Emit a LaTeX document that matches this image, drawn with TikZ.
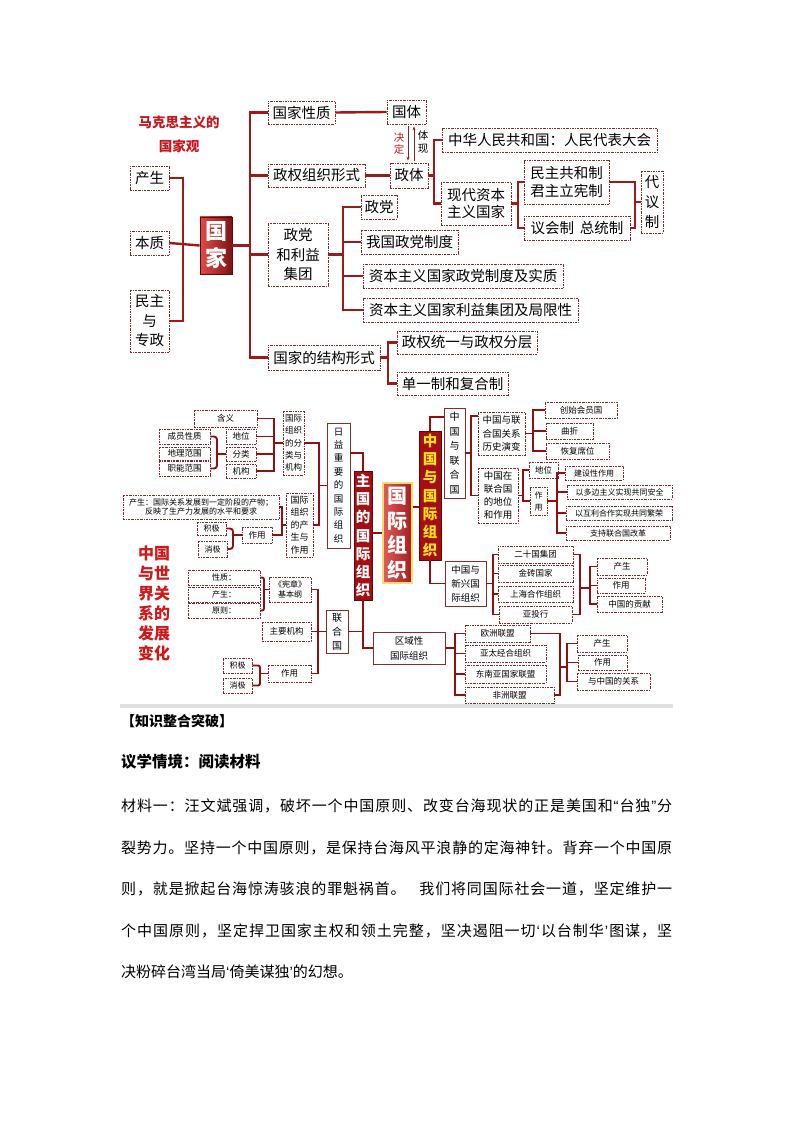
\documentclass[tikz,border=0pt]{standalone}
\usepackage{fontspec}
\setmainfont{Noto Sans CJK SC}
\newfontfamily\qtf{Liberation Sans}
\usetikzlibrary{arrows.meta,calc}
\definecolor{lnc}{HTML}{9C1A1A}
\definecolor{lnc2}{HTML}{8E1010}
\definecolor{dbc}{HTML}{7B2B2B}
\definecolor{sbc}{HTML}{8B2A2A}
\definecolor{titc}{HTML}{C8161D}
\definecolor{bigred}{HTML}{D01818}
\definecolor{rbl}{HTML}{E24A48}
\definecolor{rbr}{HTML}{7E1414}
\definecolor{gjl}{HTML}{E35A5A}
\definecolor{gjr}{HTML}{A41E1E}
\definecolor{glowc}{HTML}{F6DE6C}
\definecolor{zgf}{HTML}{A50F14}
\definecolor{zgd}{HTML}{5A0A0A}
\definecolor{ylw}{HTML}{FFE31A}
\definecolor{arc}{HTML}{8B2020}
\newcommand{\dbx}[7][db]{\node[#1,minimum width={#5-#3},minimum height={#6-#4}] (#2) at ({(#3+#5)/2},{(#4+#6)/2}) {#7};}
% spread characters of one line over 551pt
\def\sprdend{}
\def\sprdgap{\hspace{12pt}}
\def\qla{{\qtf ‘}}
\def\qlb{{\qtf ’}}
\def\qda{{\qtf “}}
\def\qdb{{\qtf ”}}
\newcommand\sprd[1]{\hbox to 551pt{\sprdfirst#1\sprdend}}
\def\sprdfirst#1{#1\sprdloop}
\def\sprdloop#1{\ifx#1\sprdend\else\hskip 0pt plus 1fil\relax #1\expandafter\sprdloop\fi}
\tikzset{
  db/.style={draw=dbc, line width=0.7pt, dash pattern=on 2pt off 1pt on 0.6pt off 1pt, fill=white, inner sep=0pt, align=center},
  sb/.style={draw=sbc, line width=0.8pt, fill=white, inner sep=0pt, align=center},
  redbox/.style={draw=zgd, line width=0.8pt, left color=rbl, right color=rbr, text=white, inner sep=0pt, align=center},
  zgbox/.style={draw=zgd, line width=0.6pt, fill=zgf, text=white, inner sep=0pt, align=center, font=\bfseries\fontsize{14.5}{18.3}\selectfont},
  gjbox/.style={draw=glowc, line width=2.2pt, left color=gjl, right color=gjr, text=white, inner sep=0pt, align=center, font=\bfseries\fontsize{20}{24.5}\selectfont},
  zgybox/.style={draw=zgd, line width=0.6pt, fill=zgf, text=ylw, inner sep=0pt, align=center, font=\bfseries\fontsize{14.5}{18.2}\selectfont},
  f14/.style={font=\fontsize{14.5}{17}\selectfont},
  f14m/.style={font=\fontsize{14.5}{17.5}\selectfont},
  f14l/.style={font=\fontsize{14.5}{19.5}\selectfont},
  f85/.style={font=\fontsize{8.5}{10}\selectfont},
  f8/.style={font=\fontsize{8}{10}\selectfont},
  ln/.style={draw=lnc, line width=2.4pt},
  ln2/.style={draw=lnc2, line width=1.9pt},
  myarr/.style={draw=arc, line width=0.7pt, -{Stealth[length=4pt,width=3pt]}},
  txl/.style={anchor=base west, inner sep=0pt, font=\fontsize{15}{18}\selectfont},
}
\begin{document}
\begin{tikzpicture}[x=1pt,y=-1pt]
\useasboundingbox (0,0) rectangle (794,1123);
% ===== top diagram =====
\node[font=\bfseries\fontsize{13.5}{15}\selectfont, text=titc, inner sep=0pt] (ti1) at (179,122) {马克思主义的};
\node[font=\bfseries\fontsize{13.5}{15}\selectfont, text=titc, inner sep=0pt] (ti2) at (179,146) {国家观};
\dbx[db,f14]{cs}{130}{166}{169}{190}{产生}
\dbx[db,f14]{bz}{130}{231}{169}{255}{本质}
\dbx[db,f14l]{mz}{130}{290}{169}{352}{民主\\与\\专政}
\dbx[redbox,font=\bfseries\fontsize{22}{27}\selectfont]{gj}{200}{217}{232}{274}{国\\家}
\dbx[db,f14]{xz}{268}{101}{335}{124}{国家性质}
\dbx[db,f14]{zq}{268}{164}{365}{187}{政权组织形式}
\dbx[db,f14l]{zd}{268}{223}{328}{286}{政党\\和利益\\集团}
\dbx[db,f14]{jg}{268}{345}{380}{370}{国家的结构形式}
\dbx[db,f14]{gt}{387}{100}{426}{124}{国体}
\dbx[db,f14]{zt}{390}{163}{428}{188}{政体}
\dbx[db,f14]{zh}{442}{128}{657}{152}{中华人民共和国：人民代表大会}
\dbx[db,f14m]{xd}{441}{182}{511}{225}{现代资本\\主义国家}
\dbx[db,f14m]{mg}{524}{160}{609}{204}{民主共和制\\君主立宪制}
\dbx[db,f14]{yh}{524}{216}{630}{240}{议会制\hspace{6pt}总统制}
\dbx[db,font=\fontsize{14.5}{20}\selectfont]{dy}{641}{171}{663}{233}{代\\议\\制}
\dbx[db,f14]{dd}{361}{195}{397}{219}{政党}
\dbx[db,f14]{wg}{361}{230}{458}{254}{我国政党制度}
\dbx[db,f14]{zb1}{363}{264}{563}{288}{资本主义国家政党制度及实质}
\dbx[db,f14]{zb2}{363}{298}{578}{322}{资本主义国家利益集团及局限性}
\dbx[db,f14]{tq}{397}{331}{537}{354}{政权统一与政权分层}
\dbx[db,f14]{dz}{397}{372}{508}{395}{单一制和复合制}
\node[font=\fontsize{10.5}{12}\selectfont, text=titc, align=center, inner sep=0pt] (jd) at (399,143.5) {决\\定};
\node[font=\fontsize{10.5}{13}\selectfont, align=center, inner sep=0pt] (tx) at (423,141.7) {体\\现};
\draw[myarr] ([xshift=1.5pt,yshift=-2pt]gt.south) -- ([xshift=-1pt,yshift=2pt]zt.north);
\draw[myarr] ([xshift=5pt,yshift=2pt]zt.north) -- ([xshift=7.5pt,yshift=-2pt]gt.south);
% top connectors
\coordinate (sL) at (183,0);
\draw[ln] (cs.east) -| (mz.east -| sL) -- (mz.east);
\draw[ln] (bz.east) -- (gj.west);
\coordinate (sA) at (250,0);
\draw[ln] (xz.west) -| (jg.west -| sA) -- (jg.west);
\draw[ln] (gj.east) -- (gj.east -| sA);
\draw[ln] (zq.west -| sA) -- (zq.west);
\draw[ln] (zd.west -| sA) -- (zd.west);
\draw[ln] (xz.east) -- (gt.west);
\draw[ln] (zq.east) -- (zt.west);
\coordinate (sB) at (434,0);
\draw[ln] (zh.west) -| (xd.west -| sB) -- (xd.west);
\draw[ln] (zt.east) -- (zt.east -| sB);
\coordinate (sC) at (518,0);
\draw[ln] (mg.west) -| (yh.west -| sC) -- (yh.west);
\draw[ln] (xd.east) -- (xd.east -| sC);
\coordinate (sD) at (635,0);
\draw[ln] (mg.east) -| (yh.east -| sD) -- (yh.east);
\draw[ln] (dy.west -| sD) -- (dy.west);
\coordinate (sE) at (343,0);
\draw[ln] (dd.west) -| (zb2.west -| sE) -- (zb2.west);
\draw[ln] (zd.east) -- (zd.east -| sE);
\draw[ln] (wg.west -| sE) -- (wg.west);
\draw[ln] (zb1.west -| sE) -- (zb1.west);
\coordinate (sF) at (388,0);
\draw[ln] (tq.west) -| (dz.west -| sF) -- (dz.west);
\draw[ln] (jg.east) -- (jg.east -| sF);
% ===== second diagram =====
\dbx[db,f85]{hy}{194}{410}{257}{427}{含义}
\dbx[db,f85]{dw}{226}{429}{256}{444}{地位}
\dbx[db,f85]{fl}{226}{447}{256}{461}{分类}
\dbx[db,f85]{jgou}{226}{464}{256}{478}{机构}
\dbx[db,f85]{cy}{159}{429}{210}{444}{成员性质}
\dbx[db,f85]{dl}{159}{447}{210}{460}{地理范围}
\dbx[db,f85]{zn}{159}{461}{210}{476}{职能范围}
\dbx[db,font=\fontsize{8.5}{12.4}\selectfont]{flj}{283}{411}{304}{475}{国际\\组织\\的分\\类与\\机构}
\dbx[db,font=\fontsize{8}{9.5}\selectfont]{cs2}{123}{495}{279}{519}{产生：国际关系发展到一定阶段的产物；\\反映了生产力发展的水平和要求}
\dbx[db,f8]{jj1}{197}{522}{226}{535}{积极}
\dbx[db,f8]{xj1}{198}{541}{227}{557}{消极}
\dbx[db,f85]{zy1}{242}{527}{272}{543}{作用}
\dbx[db,font=\fontsize{9}{12.6}\selectfont]{csz}{286}{493}{313}{557}{国际\\组织\\的产\\生与\\作用}
\dbx[sb,font=\fontsize{9.5}{13.4}\selectfont]{ry}{327}{423}{350}{548}{日\\益\\重\\要\\的\\国\\际\\组\\织}
\dbx[zgbox]{zg}{354}{471}{372}{600}{主\\国\\的\\国\\际\\组\\织}
\dbx[gjbox]{gjzz}{383}{483}{412}{583}{国\\际\\组\\织}
\dbx[sb,font=\fontsize{10}{14}\selectfont]{lhg}{326}{610}{348}{653}{联\\合\\国}
\dbx[db,f8]{xz2}{188}{570}{260}{585}{性质：}
\dbx[db,f8]{cs3}{188}{587}{260}{602}{产生：}
\dbx[db,f8]{yz}{188}{603}{260}{618}{原则：}
\dbx[db,font=\fontsize{8}{10}\selectfont]{xzj}{269}{577}{311}{602}{《宪章》\\基本纲}
\dbx[db,f85]{zyjg}{262}{622}{311}{641}{主要机构}
\dbx[db,f85]{zy2}{268}{665}{311}{682}{作用}
\dbx[db,f8]{jj2}{223}{658}{252}{673}{积极}
\dbx[db,f8]{xj2}{223}{678}{252}{693}{消极}
\dbx[sb,font=\fontsize{9.5}{15}\selectfont]{qy}{373}{632}{445}{664}{区域性\\国际组织}
\dbx[zgybox]{zgy}{419}{431}{441}{560}{中\\国\\与\\国\\际\\组\\织}
\dbx[sb,font=\fontsize{10}{14.5}\selectfont]{zl}{444}{408}{465}{498}{中\\国\\与\\联\\合\\国}
\dbx[sb,font=\fontsize{9.5}{14}\selectfont]{zx}{445}{561}{486}{606}{中国与\\新兴国\\际组织}
\dbx[db,font=\fontsize{9.5}{13.5}\selectfont]{ls}{478}{412}{525}{455}{中国与联\\合国关系\\历史演变}
\dbx[db,font=\fontsize{9.5}{13.2}\selectfont]{zd2}{478}{468}{518}{523}{中国在\\联合国\\的地位\\和作用}
\dbx[db,f85]{csh}{545}{402}{617}{418}{创始会员国}
\dbx[db,f85]{qz}{546}{423}{593}{439}{曲折}
\dbx[db,f85]{hf}{546}{443}{609}{459}{恢复席位}
\dbx[db,f85]{dw2}{529}{462}{558}{478}{地位}
\dbx[db,font=\fontsize{8}{12}\selectfont]{zy3}{530}{487}{547}{515}{作\\用}
\dbx[db,f8]{js}{565}{466}{623}{480}{建设性作用}
\dbx[db,f8]{dbz}{567}{485}{672}{499}{以多边主义实现共同安全}
\dbx[db,f8]{hl}{566}{506}{672}{520}{以互利合作实现共同繁荣}
\dbx[db,f8]{zc}{566}{526}{670}{540}{支持联合国改革}
\dbx[db,f85]{ess}{498}{546}{573}{563}{二十国集团}
\dbx[db,f85]{jz}{498}{565}{573}{582}{金砖国家}
\dbx[db,f85]{sh}{498}{586}{573}{602}{上海合作组织}
\dbx[db,f85]{yt}{499}{606}{572}{623}{亚投行}
\dbx[db,f85]{cs4}{597}{558}{647}{575}{产生}
\dbx[db,f85]{zy4}{597}{578}{645}{593}{作用}
\dbx[db,f85]{gx}{597}{596}{662}{612}{中国的贡献}
\dbx[db,f85]{oz}{465}{625}{530}{642}{欧洲联盟}
\dbx[db,f85]{yt2}{465}{645}{546}{662}{亚太经合组织}
\dbx[db,f85]{dn}{465}{665}{546}{683}{东南亚国家联盟}
\dbx[db,f85]{fz}{465}{687}{554}{703}{非洲联盟}
\dbx[db,f85]{cs5}{577}{635}{627}{652}{产生}
\dbx[db,f85]{zy5}{578}{655}{627}{670}{作用}
\dbx[db,f85]{gxz}{577}{673}{650}{690}{与中国的关系}
\node[font=\bfseries\fontsize{16}{20}\selectfont, text=bigred, align=center, inner sep=0pt] (bt) at (154,603) {中国\\与世\\界关\\系的\\发展\\变化};
% second connectors
\coordinate (t1) at (217,0);
\draw[ln2, rounded corners=3pt] (cy.east) -| (zn.east -| t1) -- (zn.east);
\draw[ln2] (fl.west -| t1) -- (fl.west);
\coordinate (t2) at (274,0);
\draw[ln2] (hy.east) -| (jgou.east -| t2) -- (jgou.east);
\draw[ln2] (dw.east) -- (dw.east -| t2);
\draw[ln2] (fl.east) -- (fl.east -| t2);
\draw[ln2] (flj.west -| t2) -- (flj.west);
\coordinate (t3) at (233,0);
\draw[ln2, rounded corners=3pt] (jj1.east) -| (xj1.east -| t3) -- (xj1.east);
\draw[ln2] (zy1.west -| t3) -- (zy1.west);
\coordinate (t4) at (282,0);
\draw[ln2] (cs2.east) -| (zy1.east -| t4) -- (zy1.east);
\draw[ln2] (csz.west -| t4) -- (csz.west);
\coordinate (t5) at (319,0);
\draw[ln2] (flj.east) -| (csz.east -| t5) -- (csz.east);
\draw[ln2] (ry.west -| t5) -- (ry.west);
\draw[ln2] ($(ry.north east)+(0,30)$) -| (zg.north);
\draw[ln2] (gjzz.west) -- (gjzz.west -| zg.east);
\draw[ln2] (zg.south) |- (qy.west);
\draw[ln2] (lhg.east) -- (lhg.east -| zg.south);
\coordinate (t6) at (318,0);
\draw[ln2] (xzj.east) -| (zy2.east -| t6) -- (zy2.east);
\draw[ln2] (zyjg.east) -- (lhg.west);
\coordinate (t7) at (264,0);
\draw[ln2, rounded corners=2pt] (xz2.east) -| (yz.east -| t7) -- (yz.east);
\draw[ln2] (xzj.west -| t7) -- (xzj.west);
\coordinate (t8) at (260,0);
\draw[ln2, rounded corners=2pt] (jj2.east) -| (xj2.east -| t8) -- (xj2.east);
\draw[ln2] (zy2.west -| t8) -- (zy2.west);
\coordinate (c1) at (0,507);
\draw[ln2] (gjzz.east |- c1) -- (zgy.west |- c1);
\draw[ln2] (zgy.north) |- ($(zl.north west)+(0,9)$);
\draw[ln2] (zgy.south) |- (zx.west);
\coordinate (t9) at (471,0);
\draw[ln2] ($(ls.north west)+(0,4)$) -| (zd2.west -| t9) -- (zd2.west);
\draw[ln2] (zl.east) -- (zl.east -| t9);
\coordinate (t10) at (533,0);
\draw[ln2] (csh.west) -| (hf.west -| t10) -- (hf.west);
\draw[ln2] (ls.east) -- (ls.east -| t10);
\draw[ln2] (qz.west -| t10) -- (qz.west);
\coordinate (t11) at (523,0);
\draw[ln2] (dw2.west) -| (zy3.west -| t11) -- (zy3.west);
\draw[ln2] (zd2.east) -- (zd2.east -| t11);
\coordinate (t12) at (557,0);
\draw[ln2] (js.west) -| (zc.west -| t12) -- (zc.west);
\draw[ln2] (zy3.east) -- (zy3.east -| t12);
\draw[ln2] (dbz.west -| t12) -- (dbz.west);
\draw[ln2] (hl.west -| t12) -- (hl.west);
\coordinate (t13) at (493,0);
\draw[ln2] (ess.west) -| (yt.west -| t13) -- (yt.west);
\draw[ln2] (zx.east) -- (zx.east -| t13);
\draw[ln2] (jz.west -| t13) -- (jz.west);
\draw[ln2] (sh.west -| t13) -- (sh.west);
\coordinate (t14) at (580,0);
\coordinate (t15) at (590,0);
\coordinate (c3) at (0,588);
\draw[ln2] (ess.east) -| (yt.east -| t14) -- (yt.east);
\draw[ln2] (c3 -| t14) -- (c3 -| t15);
\draw[ln2] (cs4.west) -| (gx.west -| t15) -- (gx.west);
\draw[ln2] (zy4.west -| t15) -- (zy4.west);
\coordinate (t16) at (455,0);
\draw[ln2] (oz.west) -| (fz.west -| t16) -- (fz.west);
\draw[ln2] (qy.east) -- (qy.east -| t16);
\draw[ln2] (yt2.west -| t16) -- (yt2.west);
\draw[ln2] (dn.west -| t16) -- (dn.west);
\coordinate (t17) at (560,0);
\coordinate (t18) at (567,0);
\coordinate (c4) at (0,667);
\draw[ln2] (oz.east) -| (fz.east -| t17) -- (fz.east);
\draw[ln2] (c4 -| t17) -- (c4 -| t18);
\draw[ln2] (cs5.west) -| (gxz.west -| t18) -- (gxz.west);
\draw[ln2] (zy5.west -| t18) -- (zy5.west);
\fill[black!12] (120,704) rectangle (673,708);
% ===== text =====
\node[anchor=base west, inner sep=0pt, font=\bfseries\fontsize{14}{16}\selectfont] (h1) at (121,726.3) {【知识整合突破】};
\node[anchor=base west, inner sep=0pt, font=\bfseries\fontsize{15.5}{17}\selectfont] (h2) at (121,767.9) {议学情境：阅读材料};
\node[txl] (l1) at (121,811.7) {\sprd{材料一：汪文斌强调，破坏一个中国原则、改变台海现状的正是美国和\qda 台独\qdb 分}};
\node[txl] (l2) at (121,853.2) {\sprd{裂势力。坚持一个中国原则，是保持台海风平浪静的定海神针。背弃一个中国原}};
\node[txl] (l3) at (121,894.7) {\sprd{则，就是掀起台海惊涛骇浪的罪魁祸首。\sprdgap 我们将同国际社会一道，坚定维护一}};
\node[txl] (l4) at (121,936.2) {\sprd{个中国原则，坚定捍卫国家主权和领土完整，坚决遏阻一切\qla 以台制华\qlb 图谋，坚}};
\node[txl] (l5) at (121,977.7) {决粉碎台湾当局\qla 倚美谋独\qlb 的幻想。};
\end{tikzpicture}
\end{document}
